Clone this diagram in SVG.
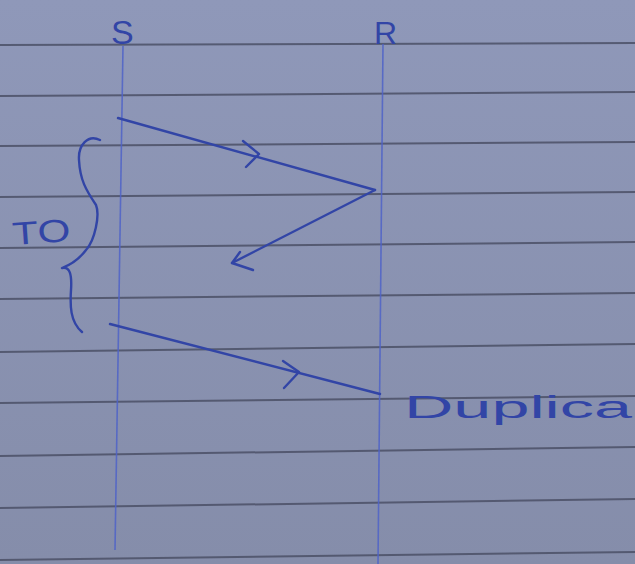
<svg xmlns="http://www.w3.org/2000/svg" width="635" height="564" viewBox="0 0 635 564">
<style>
.rule{stroke:#4b5066;stroke-width:2;fill:none;opacity:0.85}
.life{stroke:#4f63c8;stroke-width:1.6;fill:none;opacity:0.85}
.pen{stroke:#3245a6;stroke-width:2.4;fill:none;stroke-linecap:round;stroke-linejoin:round}
.hand{font-family:"Liberation Sans",Arial,sans-serif;fill:#3245a6}
</style>
<defs>
<linearGradient id="paper" x1="0" y1="0" x2="0" y2="1">
<stop offset="0" stop-color="#8f98b9"/>
<stop offset="1" stop-color="#858daa"/>
</linearGradient>
</defs>
<rect width="635" height="564" fill="url(#paper)"/>
<g id="ruling">
<line class="rule" x1="0" y1="45" x2="635" y2="43"/>
<line class="rule" x1="0" y1="96" x2="635" y2="92"/>
<line class="rule" x1="0" y1="146" x2="635" y2="142"/>
<line class="rule" x1="0" y1="197" x2="635" y2="192"/>
<line class="rule" x1="0" y1="248" x2="635" y2="242"/>
<line class="rule" x1="0" y1="299" x2="635" y2="293"/>
<line class="rule" x1="0" y1="352" x2="635" y2="344"/>
<line class="rule" x1="0" y1="403" x2="635" y2="396"/>
<line class="rule" x1="0" y1="456" x2="635" y2="447"/>
<line class="rule" x1="0" y1="508" x2="635" y2="499"/>
<line class="rule" x1="0" y1="560" x2="635" y2="552"/>
</g>
<g id="sender">
<line class="life" x1="123" y1="46" x2="115" y2="550"/>
<text class="hand" x="111" y="44" font-size="34">S</text>
</g>
<g id="receiver">
<line class="life" x1="383" y1="44" x2="378" y2="564"/>
<text class="hand" x="374" y="44" font-size="32">R</text>
</g>
<g id="timeout">
<path class="pen" d="M100,140 C88,134 78,145 79,160 C80,180 86,190 96,205 C100,215 95,240 86,250 C80,258 70,265 62,268 C70,266 72,275 71,290 C70,305 70,322 82,332"/>
<text class="hand" x="12" y="243" font-size="32" textLength="58" lengthAdjust="spacingAndGlyphs" transform="rotate(-4 40 228)">TO</text>
</g>
<g id="duplicate">
<text class="hand" x="404" y="418" font-size="31" textLength="228" lengthAdjust="spacingAndGlyphs">Duplica</text>
</g>
<g id="connectors">
<path class="pen" d="M118,118 L375,190"/>
<path class="pen" d="M243,141 L259,154 L246,167"/>
<path class="pen" d="M375,190 L232,263"/>
<path class="pen" d="M240,252 L232,263 L253,270"/>
<path class="pen" d="M110,324 L380,394"/>
<path class="pen" d="M283,361 L299,372 L284,388"/>
</g>
</svg>
